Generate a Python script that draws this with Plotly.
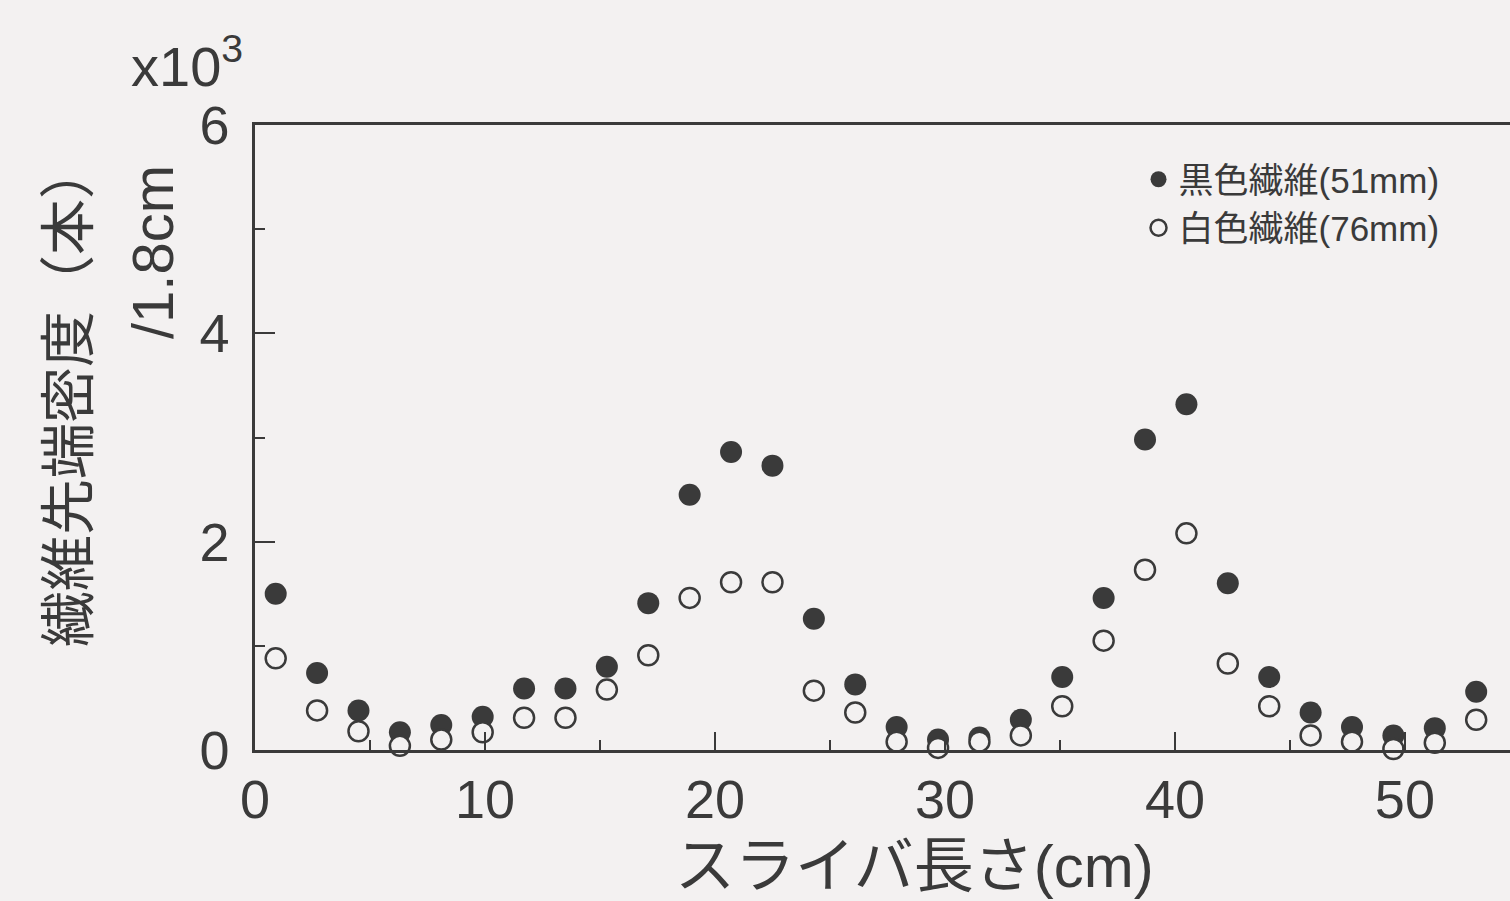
import plotly.graph_objects as go

# Sliver length positions (cm)
x_cm = [0.9, 2.7, 4.5, 6.3, 8.1, 9.9, 11.7, 13.5, 15.3, 17.1,
        18.9, 20.7, 22.5, 24.3, 26.1, 27.9, 29.7, 31.5, 33.3, 35.1,
        36.9, 38.7, 40.5, 42.3, 44.1, 45.9, 47.7, 49.5, 51.3, 53.1]

# Fiber tip density (x10^3 per 1.8cm)
black_51mm = [1.50, 0.74, 0.38, 0.17, 0.24, 0.32, 0.59, 0.59, 0.80, 1.41,
              2.45, 2.86, 2.73, 1.26, 0.63, 0.22, 0.10, 0.12, 0.29, 0.70,
              1.46, 2.98, 3.32, 1.60, 0.70, 0.36, 0.22, 0.14, 0.21, 0.56]
white_76mm = [0.88, 0.38, 0.18, 0.04, 0.10, 0.17, 0.31, 0.31, 0.58, 0.91,
              1.46, 1.61, 1.61, 0.57, 0.36, 0.08, 0.02, 0.08, 0.14, 0.42,
              1.05, 1.73, 2.08, 0.83, 0.42, 0.14, 0.08, 0.01, 0.07, 0.29]

series_names = ["黒色繊維(51mm)", "白色繊維(76mm)"]
x_ticks = [0, 10, 20, 30, 40, 50]
y_ticks = [0, 2, 4, 6]

BG = "#f3f1f1"
INK = "#3a3a3a"
FONT = "Liberation Sans, Arial, Noto Sans CJK JP"

fig = go.Figure()
fig.add_trace(go.Scatter(
    x=x_cm, y=black_51mm, mode="markers", name=series_names[0],
    marker=dict(symbol="circle", size=22, color=INK, line=dict(width=0)),
    cliponaxis=False,
))
fig.add_trace(go.Scatter(
    x=x_cm, y=white_76mm, mode="markers", name=series_names[1],
    marker=dict(symbol="circle", size=20, color=BG, line=dict(width=2.5, color=INK)),
    cliponaxis=False,
))

fig.update_layout(
    width=1510, height=901, autosize=False,
    margin=dict(l=255, r=0, t=125, b=151),
    paper_bgcolor=BG, plot_bgcolor=BG,
    font=dict(family=FONT, color=INK),
    showlegend=True,
    legend=dict(
        x=0.704, y=0.96, xanchor="left", yanchor="top",
        bgcolor="rgba(0,0,0,0)", font=dict(size=35, color=INK),
        itemsizing="trace", tracegroupgap=0, itemwidth=30,
    ),
    xaxis=dict(
        range=[0, 54.57], showgrid=False, zeroline=False,
        showline=True, linecolor=INK, linewidth=2.5, mirror=True,
        tickmode="array", tickvals=x_ticks, ticktext=[str(v) for v in x_ticks],
        ticks="inside", ticklen=18, tickwidth=2, tickcolor=INK,
        minor=dict(dtick=5, ticks="inside", ticklen=10, tickwidth=2, tickcolor=INK),
        tickfont=dict(size=54, color=INK, family=FONT),
    ),
    yaxis=dict(
        range=[0, 6], showgrid=False, zeroline=False,
        showline=True, linecolor=INK, linewidth=2.5,
        tickmode="array", tickvals=y_ticks, ticktext=[str(v) for v in y_ticks],
        ticks="inside", ticklen=20, tickwidth=2, tickcolor=INK,
        minor=dict(dtick=1, ticks="inside", ticklen=10, tickwidth=2, tickcolor=INK),
        tickfont=dict(size=54, color=INK, family=FONT),
        ticklabelstandoff=12,
    ),
    annotations=[
        dict(text="スライバ長さ(cm)", xref="paper", yref="paper",
             x=(914 - 255) / 1255, y=-(866 - 750) / 625, showarrow=False,
             xanchor="center", yanchor="middle", font=dict(size=60, color=INK)),
        dict(text="繊維先端密度（本）", xref="paper", yref="paper",
             x=-(255 - 68) / 1255, y=(750 - 395) / 625, showarrow=False,
             textangle=-90, xanchor="center", yanchor="middle",
             font=dict(size=56, color=INK)),
        dict(text="/1.8cm", xref="paper", yref="paper",
             x=-(255 - 152) / 1255, y=(750 - 252) / 625, showarrow=False,
             textangle=-90, xanchor="center", yanchor="middle",
             font=dict(size=58, color=INK)),
        dict(text="x10<sup>3</sup>", xref="paper", yref="paper",
             x=-(255 - 187) / 1255, y=(750 - 62) / 625, showarrow=False,
             xanchor="center", yanchor="middle",
             font=dict(size=56, color=INK)),
    ],
)

fig.write_html("out.html")
